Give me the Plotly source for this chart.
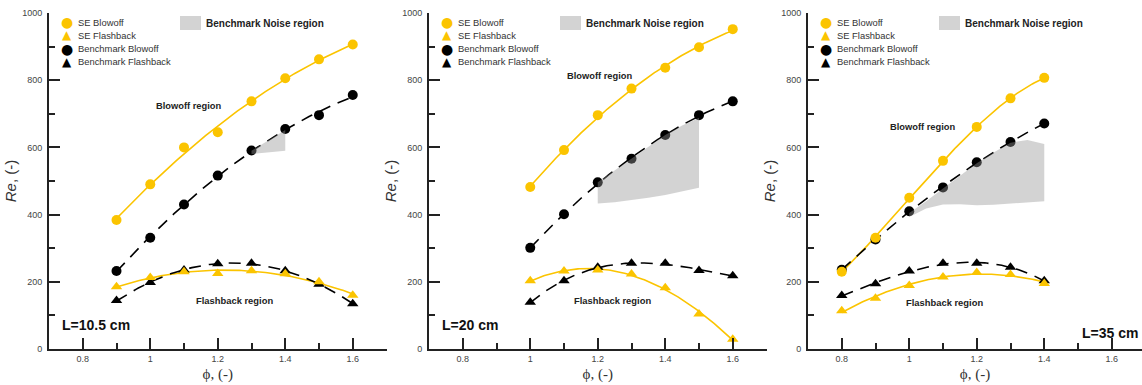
import numpy as np
import plotly.graph_objects as go

# ---------------- data ----------------
phi_p1 = [0.9, 1.0, 1.1, 1.2, 1.3, 1.4, 1.5, 1.6]
se_blowoff_p1 = [384, 490, 600, 645, 737, 806, 862, 906]
se_flashback_p1 = [185, 213, 230, 225, 233, 224, 200, 160]
bm_blowoff_p1 = [232, 331, 430, 516, 591, 655, 696, 756]
bm_flashback_p1 = [144, 198, 235, 254, 255, 233, 193, 135]
noise_phi_p1 = [1.3, 1.4]
noise_upper_p1 = [590, 652]
noise_lower_p1 = [580, 590]

phi_p2 = [1.0, 1.1, 1.2, 1.3, 1.4, 1.5, 1.6]
se_blowoff_p2 = [482, 592, 696, 775, 837, 898, 952]
se_flashback_p2 = [203, 232, 235, 223, 182, 104, 29]
bm_blowoff_p2 = [301, 401, 496, 566, 637, 696, 737]
bm_flashback_p2 = [139, 203, 243, 255, 255, 234, 218]
noise_phi_p2 = [1.2, 1.25, 1.3, 1.35, 1.4, 1.45, 1.5]
noise_upper_p2 = [496, 531, 566, 601, 637, 665, 688]
noise_lower_p2 = [433, 437, 443, 450, 458, 468, 480]

phi_p3 = [0.8, 0.9, 1.0, 1.1, 1.2, 1.3, 1.4]
se_blowoff_p3 = [230, 331, 450, 560, 661, 746, 807]
se_flashback_p3 = [114, 151, 189, 214, 228, 222, 195]
bm_blowoff_p3 = [236, 326, 410, 481, 556, 616, 671]
bm_flashback_p3 = [159, 194, 232, 255, 255, 243, 203]
noise_phi_p3 = [1.0, 1.05, 1.1, 1.15, 1.2, 1.25, 1.3, 1.35, 1.4]
noise_upper_p3 = [405, 440, 478, 515, 553, 585, 614, 622, 610]
noise_lower_p3 = [393, 418, 430, 431, 428, 429, 432, 436, 440]

panel_labels = ["L=10.5 cm", "L=20 cm", "L=35 cm"]
legend_names = ["SE Blowoff", "SE Flashback", "Benchmark Blowoff", "Benchmark Flashback"]
noise_name = "Benchmark Noise region"
x_tick_vals = [0.8, 1.0, 1.2, 1.4, 1.6]
x_tick_text = ["0.8", "1", "1.2", "1.4", "1.6"]
y_tick_vals = [0, 200, 400, 600, 800, 1000]
y_tick_text = ["0", "200", "400", "600", "800", "1000"]

# ---------------- style ----------------
W, H = 1142, 385
TOP, BOTTOM = 13, 36
GOLD = "#FBC400"
BLACK = "#000000"
AXC = "#222222"
FONT = "Arial, Liberation Sans, sans-serif"
NOISE_FILL = "rgba(150,150,150,0.42)"

axis_left_px = [49, 429, 808]
panel_w_px = 337.5

panels = [
    dict(phi=phi_p1, seb=se_blowoff_p1, sef=se_flashback_p1, bmb=bm_blowoff_p1, bmf=bm_flashback_p1,
         nphi=noise_phi_p1, nup=noise_upper_p1, nlo=noise_lower_p1,
         deg=dict(seb=2, sef=2, bmb=2, bmf=2)),
    dict(phi=phi_p2, seb=se_blowoff_p2, sef=se_flashback_p2, bmb=bm_blowoff_p2, bmf=bm_flashback_p2,
         nphi=noise_phi_p2, nup=noise_upper_p2, nlo=noise_lower_p2,
         deg=dict(seb=2, sef=3, bmb=2, bmf=3)),
    dict(phi=phi_p3, seb=se_blowoff_p3, sef=se_flashback_p3, bmb=bm_blowoff_p3, bmf=bm_flashback_p3,
         nphi=noise_phi_p3, nup=noise_upper_p3, nlo=noise_lower_p3,
         deg=dict(seb=3, sef=2, bmb=2, bmf=3)),
]


def fit_curve(x, y, deg):
    xs = np.linspace(min(x), max(x), 120)
    return xs, np.polyval(np.polyfit(x, y, deg), xs)


def pxx(px):
    return px / W


def pxy(py):
    return (H - BOTTOM - py) / (H - TOP - BOTTOM)


fig = go.Figure()
layout = dict(
    width=W, height=H,
    margin=dict(l=0, r=0, t=TOP, b=BOTTOM),
    paper_bgcolor="white", plot_bgcolor="white",
    showlegend=False,
    font=dict(family=FONT, color="#333"),
)

annotations = []
shapes = []

for i, p in enumerate(panels):
    n = "" if i == 0 else str(i + 1)
    xa, ya = "x" + n, "y" + n
    ax0 = axis_left_px[i]
    x_end = min(ax0 + panel_w_px, W)
    xmax = 0.7 + (x_end - ax0) / panel_w_px

    # fitted trend lines
    for key, color, dash in [("seb", GOLD, "solid"), ("sef", GOLD, "solid"),
                             ("bmb", BLACK, "12px,8px"), ("bmf", BLACK, "12px,8px")]:
        xs, ys = fit_curve(p["phi"], p[key], p["deg"][key])
        fig.add_trace(go.Scatter(x=xs, y=ys, mode="lines", xaxis=xa, yaxis=ya,
                                 line=dict(color=color, width=1.6, dash=dash),
                                 hoverinfo="skip", showlegend=False))
    # markers
    for key, color, sym, name in [("bmb", BLACK, "circle", legend_names[2]),
                                  ("bmf", BLACK, "triangle-up", legend_names[3]),
                                  ("seb", GOLD, "circle", legend_names[0]),
                                  ("sef", GOLD, "triangle-up", legend_names[1])]:
        fig.add_trace(go.Scatter(x=p["phi"], y=p[key], mode="markers", name=name,
                                 xaxis=xa, yaxis=ya, cliponaxis=False,
                                 marker=dict(color=color, symbol=sym, size=10,
                                             line=dict(width=0))))
    # noise region (drawn over the benchmark markers, semi-transparent)
    fig.add_trace(go.Scatter(x=list(p["nphi"]) + list(p["nphi"])[::-1],
                             y=list(p["nup"]) + list(p["nlo"])[::-1],
                             mode="lines", fill="toself", fillcolor=NOISE_FILL,
                             line=dict(width=0, color="rgba(0,0,0,0)"),
                             xaxis=xa, yaxis=ya, name=noise_name, hoverinfo="skip"))

    layout["xaxis" + n] = dict(
        domain=[pxx(ax0), pxx(x_end)], anchor=ya, range=[0.7, xmax],
        showline=True, linecolor=AXC, linewidth=2, showgrid=False, zeroline=False,
        ticks="inside", ticklen=11, tickwidth=2, tickcolor=AXC,
        tickvals=x_tick_vals, ticktext=x_tick_text,
        minor=dict(ticks="inside", ticklen=6, tickwidth=2, tickcolor=AXC, dtick=0.1, tick0=0.7),
        tickfont=dict(size=9, color="#444", family=FONT),
        title=dict(text="ϕ, (-)", font=dict(size=15, color="#333", family="Liberation Serif, DejaVu Serif, serif"),
                   standoff=6),
    )
    layout["yaxis" + n] = dict(
        domain=[0, 1], anchor=xa, range=[0, 1000],
        showline=True, linecolor=AXC, linewidth=2, showgrid=False, zeroline=False,
        ticks="inside", ticklen=11, tickwidth=2, tickcolor=AXC,
        tickvals=y_tick_vals, ticktext=y_tick_text,
        minor=dict(ticks="inside", ticklen=6, tickwidth=2, tickcolor=AXC, dtick=100, tick0=0),
        tickfont=dict(size=9, color="#444", family=FONT),
        ticklabelstandoff=3,
        title=dict(text="<i>Re</i>, (-)", font=dict(size=15, color="#333", family=FONT), standoff=2),
    )

    # legend (symbols + labels)
    row_y = [22, 35, 48.7, 61.7]
    sym_specs = [("●", GOLD), ("▲", GOLD), ("●", BLACK), ("▲", BLACK)]
    for r, (glyph, col) in enumerate(sym_specs):
        annotations.append(dict(xref="paper", yref="paper", x=pxx(ax0 + 17.7), y=pxy(row_y[r]),
                                text=glyph, showarrow=False, xanchor="center", yanchor="middle",
                                font=dict(size=14 if glyph == "●" else 12, color=col, family="DejaVu Sans")))
        annotations.append(dict(xref="paper", yref="paper", x=pxx(ax0 + 27), y=pxy(row_y[r]),
                                text=legend_names[r], showarrow=False, xanchor="left", yanchor="middle",
                                font=dict(size=9.4, color="#333", family=FONT)))
    shapes.append(dict(type="rect", xref="paper", yref="paper",
                       x0=pxx(ax0 + 131), x1=pxx(ax0 + 152), y0=pxy(30), y1=pxy(16),
                       fillcolor="#d3d3d3", line=dict(width=0)))
    annotations.append(dict(xref="paper", yref="paper", x=pxx(ax0 + 155), y=pxy(23),
                            text="<b>" + noise_name + "</b>", showarrow=False,
                            xanchor="left", yanchor="middle", font=dict(size=10, color="#222", family=FONT)))

# region labels (data coordinates)
blowoff_pos = [(1.112, 723), (1.204, 812), (1.038, 661)]
flash_pos = [(1.251, 143), (1.245, 143), (1.103, 137)]
for i in range(3):
    n = "" if i == 0 else str(i + 1)
    annotations.append(dict(xref="x" + n, yref="y" + n, x=blowoff_pos[i][0], y=blowoff_pos[i][1],
                            text="<b>Blowoff region</b>", showarrow=False,
                            font=dict(size=9.3, color="#222", family=FONT)))
    annotations.append(dict(xref="x" + n, yref="y" + n, x=flash_pos[i][0], y=flash_pos[i][1],
                            text="<b>Flashback region</b>", showarrow=False,
                            font=dict(size=9.4, color="#222", family=FONT)))

# panel labels
annotations.append(dict(xref="x", yref="y", x=0.733, y=71, text="<b>" + panel_labels[0] + "</b>",
                        showarrow=False, xanchor="left", font=dict(size=14, color="#111", family=FONT)))
annotations.append(dict(xref="x2", yref="y2", x=0.733, y=71, text="<b>" + panel_labels[1] + "</b>",
                        showarrow=False, xanchor="left", font=dict(size=14, color="#111", family=FONT)))
annotations.append(dict(xref="x3", yref="y3", x=1.684, y=48, text="<b>" + panel_labels[2] + "</b>",
                        showarrow=False, xanchor="right", font=dict(size=14, color="#111", family=FONT)))

layout["annotations"] = annotations
layout["shapes"] = shapes
fig.update_layout(**layout)
fig.write_html("out.html")
